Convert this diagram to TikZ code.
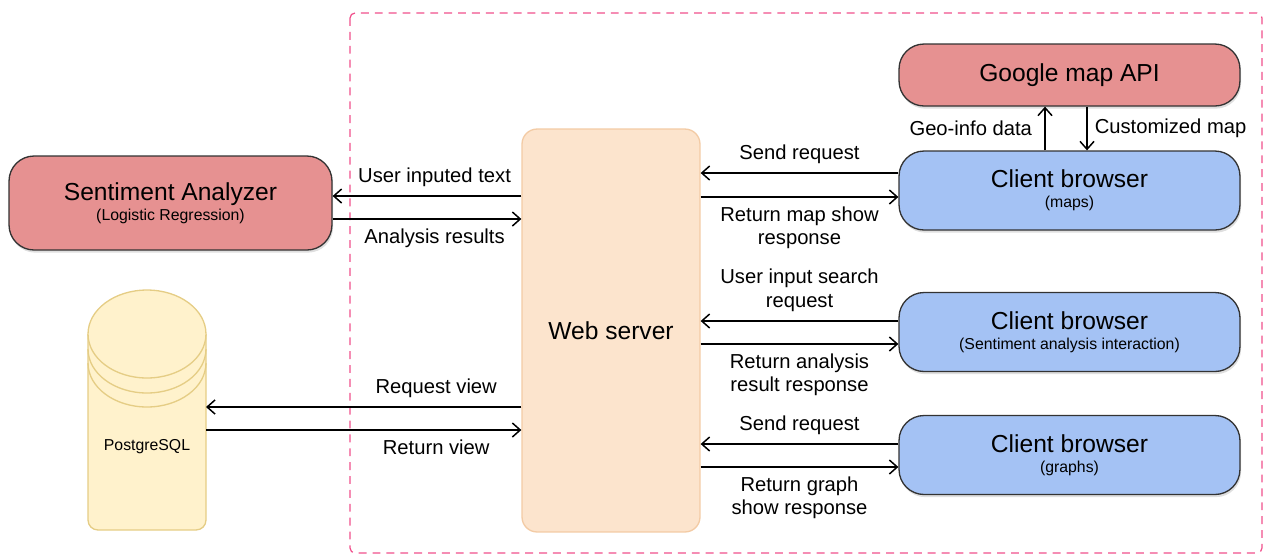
\documentclass[tikz,border=0pt]{standalone}
\usepackage{fontspec}
\setmainfont{Liberation Sans}
\usetikzlibrary{arrows.meta,shadows}
\definecolor{boxred}{HTML}{E69191}
\definecolor{boxblue}{HTML}{A4C2F4}
\definecolor{webfill}{HTML}{FCE4CD}
\definecolor{webline}{HTML}{F3CBA5}
\definecolor{dbfill}{HTML}{FFF2CC}
\definecolor{dbline}{HTML}{E5CD85}
\definecolor{framepink}{HTML}{F0508C}
\definecolor{edge}{HTML}{333333}
\newcommand{\boxtitle}[1]{{\fontsize{14}{16}\selectfont #1}}
\tikzset{
  box/.style={draw=edge, line width=0.75pt, rounded corners=0.5cm, align=center,
    inner sep=0pt, font=\fontsize{9}{11.5}\selectfont,
    drop shadow={shadow xshift=0.6pt, shadow yshift=-1.5pt, opacity=0.25}},
  redbox/.style={box, fill=boxred},
  bluebox/.style={box, fill=boxblue, minimum width=6.82cm, minimum height=1.58cm},
  webbox/.style={draw=webline, fill=webfill, line width=0.75pt, rounded corners=0.3cm,
    minimum width=3.56cm, minimum height=8.06cm, font=\fontsize{14}{16}\selectfont},
  dbshape/.style={draw=dbline, fill=dbfill, line width=0.75pt},
  conn/.style={line width=0.85pt, -{Straight Barb[length=4.5pt, width=8pt]}},
  lbl/.style={font=\fontsize{11.5}{13.5}\selectfont, align=center, inner sep=2pt},
  frame/.style={draw=framepink, line width=0.7pt, rounded corners=0.1cm,
    dash pattern=on 4.5pt off 3.4pt}
}
\begin{document}
\begin{tikzpicture}[x=0.02cm, y=-0.02cm]
\useasboundingbox (0,0) rectangle (1264,556);
\draw[frame] (350,13) rectangle (1262,553);

\node[redbox, minimum width=6.46cm, minimum height=1.88cm] (sa) at (170.5,203)
  {\boxtitle{Sentiment Analyzer}\\(Logistic Regression)};
\node[webbox] (web) at (611,330.5) {Web server};
\node[redbox, minimum width=6.82cm, minimum height=1.24cm] (gm) at (1069.5,75)
  {\boxtitle{Google map API}};
\node[bluebox] (cbmap) at (1069.5,190.5) {\boxtitle{Client browser}\\(maps)};
\node[bluebox] (cbsent) at (1069.5,332)
  {\boxtitle{Client browser}\\(Sentiment analysis interaction)};
\node[bluebox] (cbgraph) at (1069.5,455) {\boxtitle{Client browser}\\(graphs)};

% database drum
\draw[dbshape, rounded corners=0.2cm] (88,334) -- (88,530) -- (206,530) -- (206,334);
\draw[dbshape] (147,334) ellipse[x radius=1.18cm, y radius=0.88cm];
\draw[draw=dbline, line width=0.75pt] (88,349) arc[start angle=180, end angle=360, x radius=1.18cm, y radius=0.88cm];
\draw[draw=dbline, line width=0.75pt] (88,363) arc[start angle=180, end angle=360, x radius=1.18cm, y radius=0.88cm];
\node[font=\fontsize{9}{10}\selectfont] (db) at (147,447) {PostgreSQL};
\coordinate (dbside) at (206,430);

\draw[conn] (web.west |- 0,196) -- node[lbl, above=3pt, pos=0.46] {User inputed text} (sa.east |- 0,196);
\draw[conn] (sa.east |- 0,219) -- node[lbl, below=3pt, pos=0.54] {Analysis results} (web.west |- 0,219);
\draw[conn] (web.west |- 0,407) -- node[lbl, above=3pt, pos=0.27] {Request view} (dbside |- 0,407);
\draw[conn] (dbside |- 0,430) -- node[lbl, below=3pt, pos=0.73] {Return view} (web.west |- 0,430);

\draw[conn] (cbmap.west |- 0,173) -- node[lbl, above=3pt] {Send request} (web.east |- 0,173);
\draw[conn] (web.east |- 0,197) -- node[lbl, below=3pt] {Return map show\\response} (cbmap.west |- 0,197);
\draw[conn] (cbsent.west |- 0,321) -- node[lbl, above=3pt] {User input search\\request} (web.east |- 0,321);
\draw[conn] (web.east |- 0,344) -- node[lbl, below=3pt] {Return analysis\\result response} (cbsent.west |- 0,344);
\draw[conn] (cbgraph.west |- 0,444) -- node[lbl, above=3pt] {Send request} (web.east |- 0,444);
\draw[conn] (web.east |- 0,467) -- node[lbl, below=3pt] {Return graph\\show response} (cbgraph.west |- 0,467);

\draw[conn] (cbmap.north -| 1045,0) -- node[lbl, left=5pt] {Geo-info data} (gm.south -| 1045,0);
\draw[conn] (gm.south -| 1087,0) -- node[lbl, right=2pt] {Customized map} (cbmap.north -| 1087,0);
\end{tikzpicture}
\end{document}
